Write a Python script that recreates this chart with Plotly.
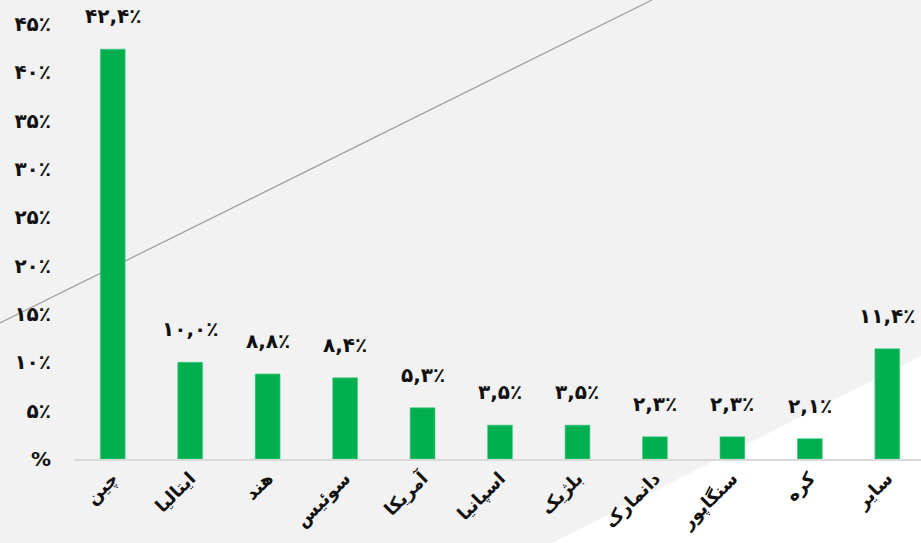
import plotly.graph_objects as go

categories = ["چین", "ایتالیا", "هند", "سوئیس", "آمریکا", "اسپانیا", "بلژیک", "دانمارک", "سنگاپور", "کره", "سایر"]
values = [42.4, 10.0, 8.8, 8.4, 5.3, 3.5, 3.5, 2.3, 2.3, 2.1, 11.4]
value_labels = ["۴۲,۴٪", "۱۰,۰٪", "۸,۸٪", "۸,۴٪", "۵,۳٪", "۳,۵٪", "۳,۵٪", "۲,۳٪", "۲,۳٪", "۲,۱٪", "۱۱,۴٪"]
tick_vals = [0, 5, 10, 15, 20, 25, 30, 35, 40, 45]
tick_text = ["%", "۵٪", "۱۰٪", "۱۵٪", "۲۰٪", "۲۵٪", "۳۰٪", "۳۵٪", "۴۰٪", "۴۵٪"]

W, H = 921, 543
L, R, T, B = 74, 0, 24, 84
pw, ph = W - L - R, H - T - B


def px(x, y):
    return (x - L) / pw, (H - B - y) / ph


FONT = "DejaVu Sans"

fig = go.Figure()
fig.add_trace(go.Bar(
    x=list(range(len(categories))), y=values,
    marker=dict(color="#00b050", line=dict(color="#3fc97d", width=0.6)),
    width=0.32,
))

for i, (v, lab) in enumerate(zip(values, value_labels)):
    fig.add_annotation(x=i, y=v, text="<b>" + lab + "</b>", showarrow=False,
                       yanchor="bottom", yshift=19,
                       font=dict(family=FONT, size=20, color="#111111"))

# background decorations
x0, y0 = px(552, 543)
x1, y1 = px(921, 356)
x2, y2 = px(921, 543)
fig.add_shape(type="path", xref="paper", yref="paper", layer="below",
              path=f"M {x0} {y0} L {x1} {y1} L {x2} {y2} Z",
              fillcolor="white", line=dict(width=0))
lx0, ly0 = px(0, 323)
lx1, ly1 = px(652, 0)
fig.add_shape(type="line", xref="paper", yref="paper", layer="below",
              x0=lx0, y0=ly0, x1=lx1, y1=ly1,
              line=dict(color="#a0a0a0", width=1.3))

fig.update_layout(
    width=W, height=H,
    margin=dict(l=L, r=R, t=T, b=B, pad=0),
    paper_bgcolor="#f2f2f2", plot_bgcolor="rgba(0,0,0,0)",
    showlegend=False,
    xaxis=dict(tickmode="array", tickvals=list(range(len(categories))), ticktext=["<b>" + c + "</b>" for c in categories],
               tickangle=-45, range=[-0.5, 10.435], showgrid=False, zeroline=False,
               showline=True, linecolor="#d9d9d9", linewidth=1.5,
               tickfont=dict(family=FONT, size=18, color="#111111"), ticks=""),
    yaxis=dict(tickmode="array", tickvals=tick_vals, ticktext=["<b>" + t + "</b>" for t in tick_text],
               range=[0, 45], showgrid=False, zeroline=False, showline=False,
               tickfont=dict(family=FONT, size=20, color="#111111"), ticks="",
               ticklabelstandoff=22),
)

fig.write_html("out.html", config={"displayModeBar": False},
               post_script="document.body.style.margin='0';document.body.style.overflow='hidden';")
